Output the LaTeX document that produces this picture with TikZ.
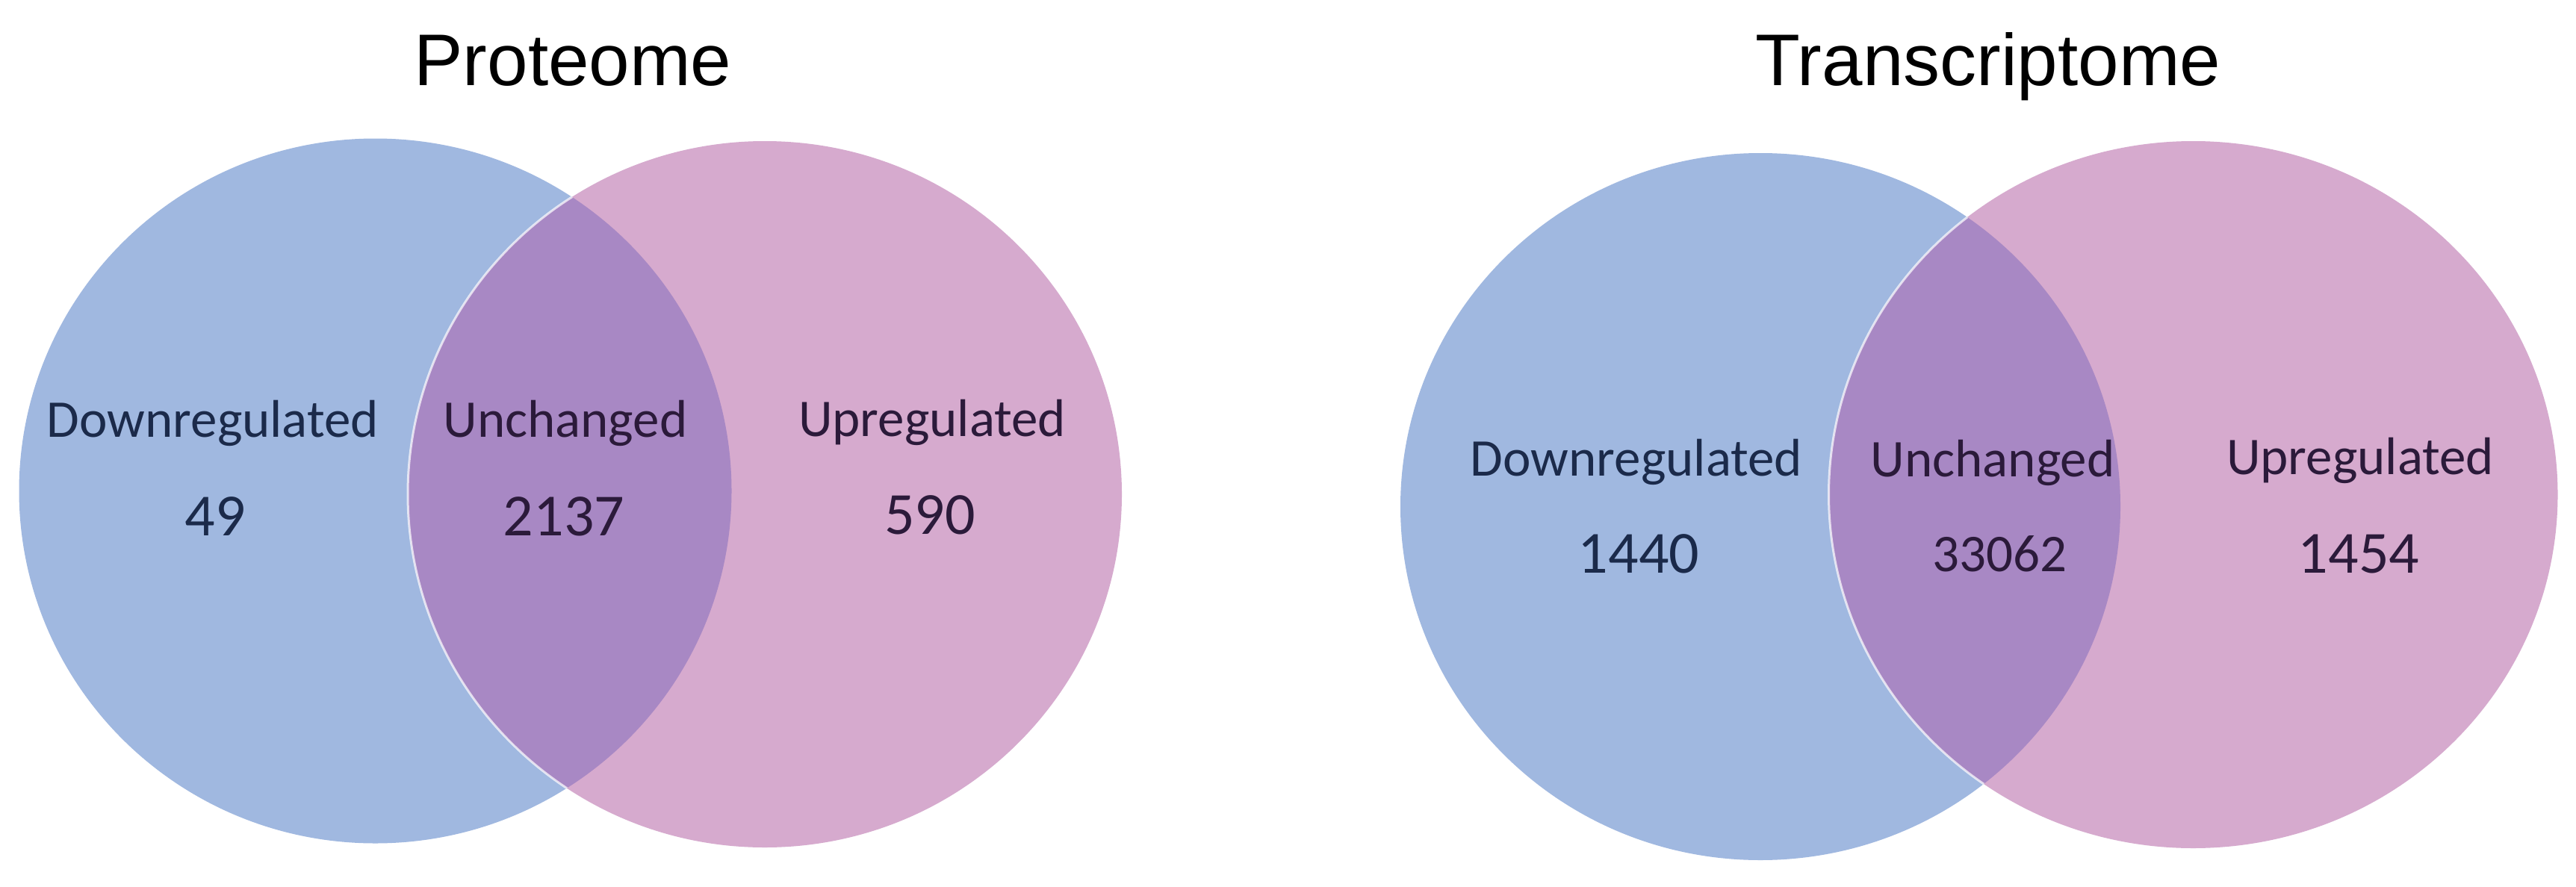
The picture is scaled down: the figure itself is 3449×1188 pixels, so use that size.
\documentclass[tikz,border=0pt]{standalone}
\usepackage{fontspec}
\setmainfont{Carlito}
\newfontfamily\titlefont{Liberation Sans}
\definecolor{vblue}{HTML}{A0B8E0}
\definecolor{vpink}{HTML}{D6AACE}
\definecolor{vmix}{HTML}{A888C4}
\definecolor{txtblue}{HTML}{1B2A4A}
\definecolor{txtpurp}{HTML}{2B1A3A}
\tikzset{
  ttl/.style={anchor=base, inner sep=0pt, font=\titlefont\fontsize{98}{110}\selectfont, text=black},
  lbl/.style={anchor=base, inner sep=0pt, font=\fontsize{71}{80}\selectfont},
  num/.style={anchor=base, inner sep=0pt, font=\fontsize{80}{90}\selectfont},
  seam/.style={draw=white, draw opacity=0.7, line width=3pt}
}
\begin{document}
\begin{tikzpicture}[x=1pt,y=-1pt]
\useasboundingbox[fill=white] (0,0) rectangle (3449,1188);
% ---------- Proteome ----------
\fill[vblue] (502.5,657.5) ellipse [x radius=477pt, y radius=472pt];
\fill[vpink] (1024,662) ellipse [x radius=478pt, y radius=473pt];
\begin{scope}
  \clip (502.5,657.5) ellipse [x radius=477pt, y radius=472pt];
  \fill[vmix] (1024,662) ellipse [x radius=478pt, y radius=473pt];
  \draw[seam] (1024,662) ellipse [x radius=478pt, y radius=473pt];
\end{scope}
\node[ttl] (t1) at (767,115) {Proteome};
\node[lbl, text=txtblue] (d1) at (285,585) {Downregulated};
\node[num, text=txtblue] (dn1) at (288,717) {49};
\node[lbl, text=txtpurp] (u1) at (757,585) {Unchanged};
\node[num, text=txtpurp] (un1) at (755,717) {2137};
\node[lbl, text=txtpurp] (p1) at (1248,584) {Upregulated};
\node[num, text=txtpurp] (pn1) at (1245,715) {590};
% ---------- Transcriptome ----------
\fill[vblue] (2357,678.5) ellipse [x radius=482pt, y radius=473.5pt];
\fill[vpink] (2936.5,662.5) ellipse [x radius=488pt, y radius=473.5pt];
\begin{scope}
  \clip (2357,678.5) ellipse [x radius=482pt, y radius=473.5pt];
  \fill[vmix] (2936.5,662.5) ellipse [x radius=488pt, y radius=473.5pt];
  \draw[seam] (2936.5,662.5) ellipse [x radius=488pt, y radius=473.5pt];
\end{scope}
\node[ttl] (t2) at (2662,115) {Transcriptome};
\node[lbl, text=txtblue] (d2) at (2191,637) {Downregulated};
\node[num, text=txtblue] (dn2) at (2194,767) {1440};
\node[lbl, text=txtpurp] (u2) at (2668,638) {Unchanged};
\node[lbl, text=txtpurp] (un2) at (2677,765) {33062};
\node[lbl, text=txtpurp] (p2) at (3160,635) {Upregulated};
\node[num, text=txtpurp] (pn2) at (3158,767) {1454};
\end{tikzpicture}
\end{document}
